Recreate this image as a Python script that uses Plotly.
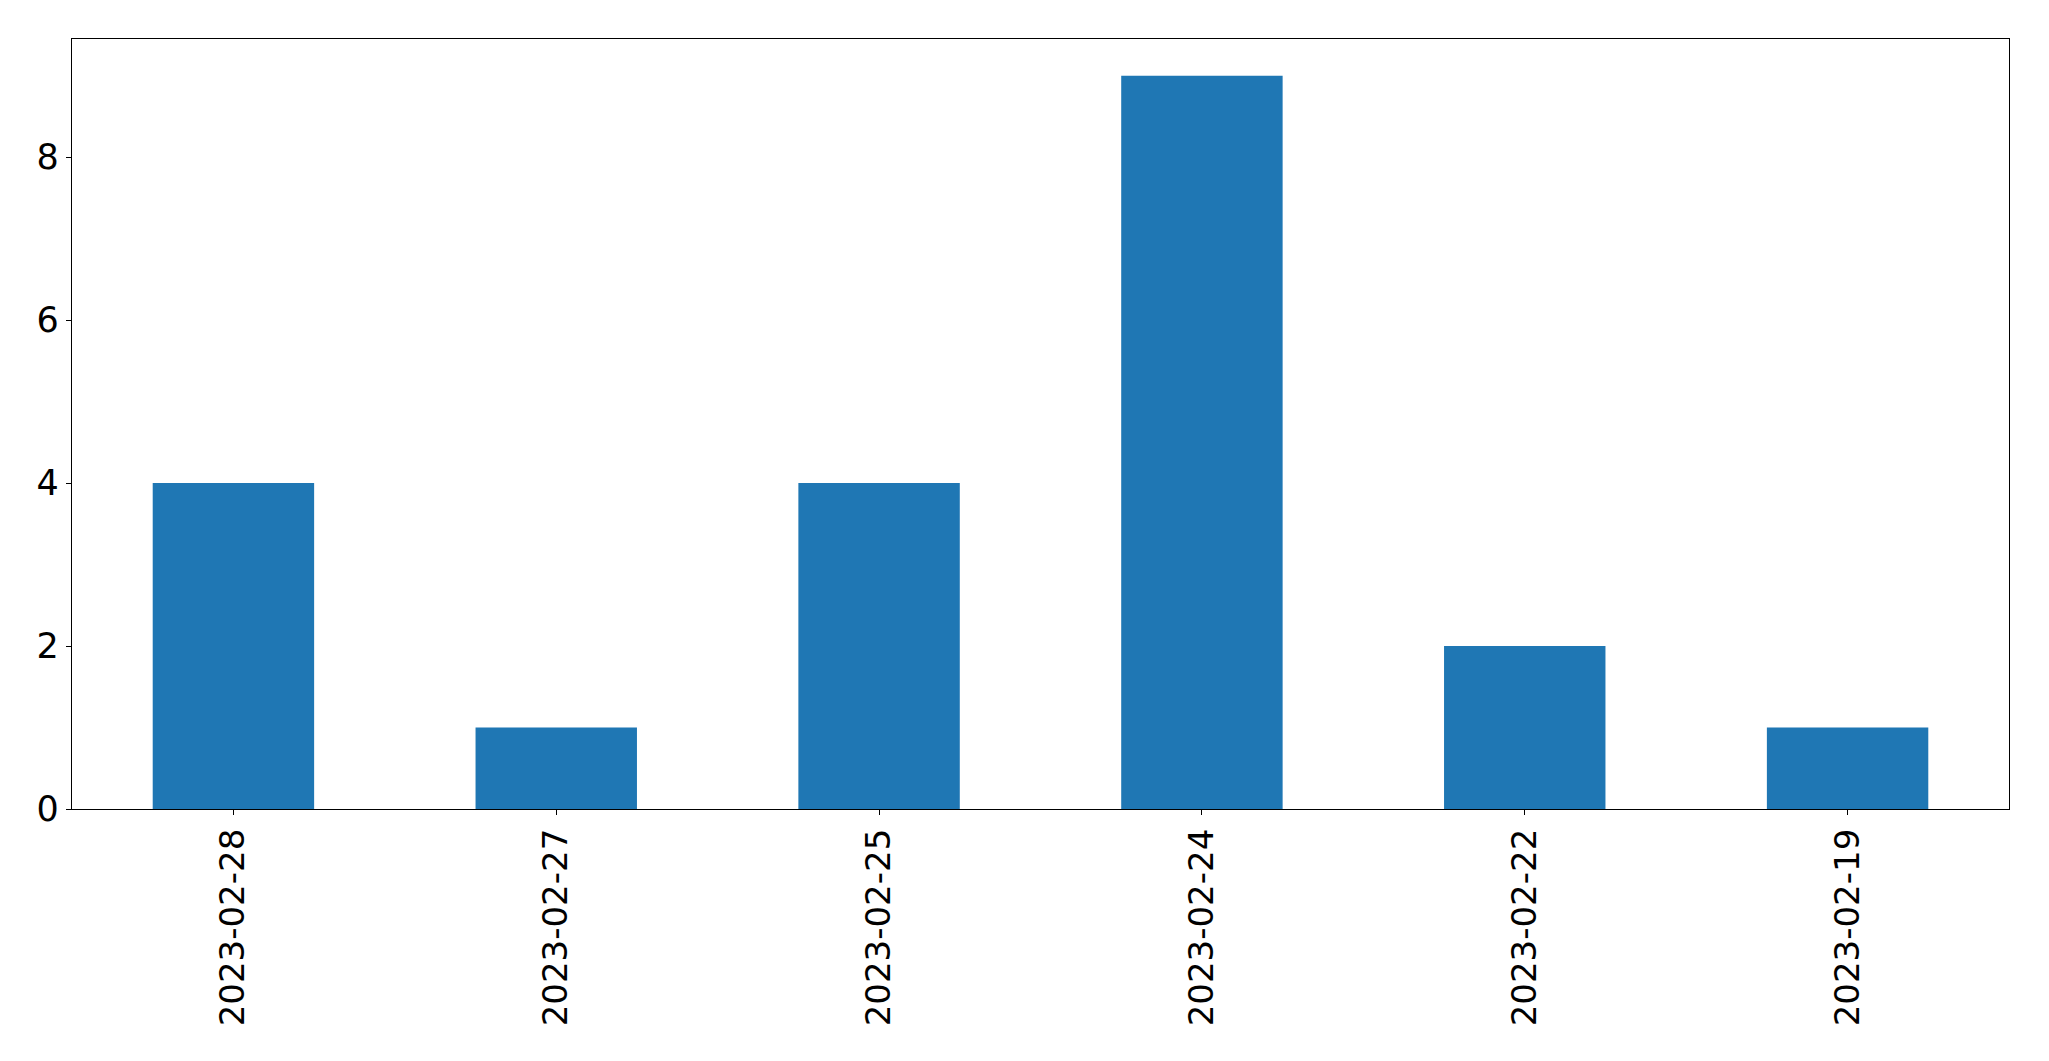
import plotly.graph_objects as go

categories = ["2023-02-28", "2023-02-27", "2023-02-25", "2023-02-24", "2023-02-22", "2023-02-19"]
counts = [4, 1, 4, 9, 2, 1]
y_ticks = [0, 2, 4, 6, 8]

fig = go.Figure(go.Bar(x=categories, y=counts, marker=dict(color="#1f77b4", line=dict(width=0)), width=0.5))

fig.update_layout(
    width=2041, height=1053,
    margin=dict(l=64, r=40, t=31, b=252),
    paper_bgcolor="white", plot_bgcolor="white",
    font=dict(family="DejaVu Sans", size=34, color="black"),
    showlegend=False,
)
fig.update_xaxes(
    type="category", range=[-0.5, 5.5], tickangle=-90,
    showline=True, mirror=True, linecolor="black", linewidth=1.3,
    ticks="outside", ticklen=5, tickwidth=1.3, tickcolor="black",
    showgrid=False, zeroline=False, tickfont=dict(size=34),
    automargin=False,
)
fig.update_yaxes(
    range=[0, 9.45], tickvals=y_ticks, ticktext=[str(v) for v in y_ticks],
    showline=True, mirror=True, linecolor="black", linewidth=1.3,
    ticks="outside", ticklen=5, tickwidth=1.3, tickcolor="black",
    showgrid=False, zeroline=False, tickfont=dict(size=35),
    automargin=False,
)
fig.write_html("out.html")
